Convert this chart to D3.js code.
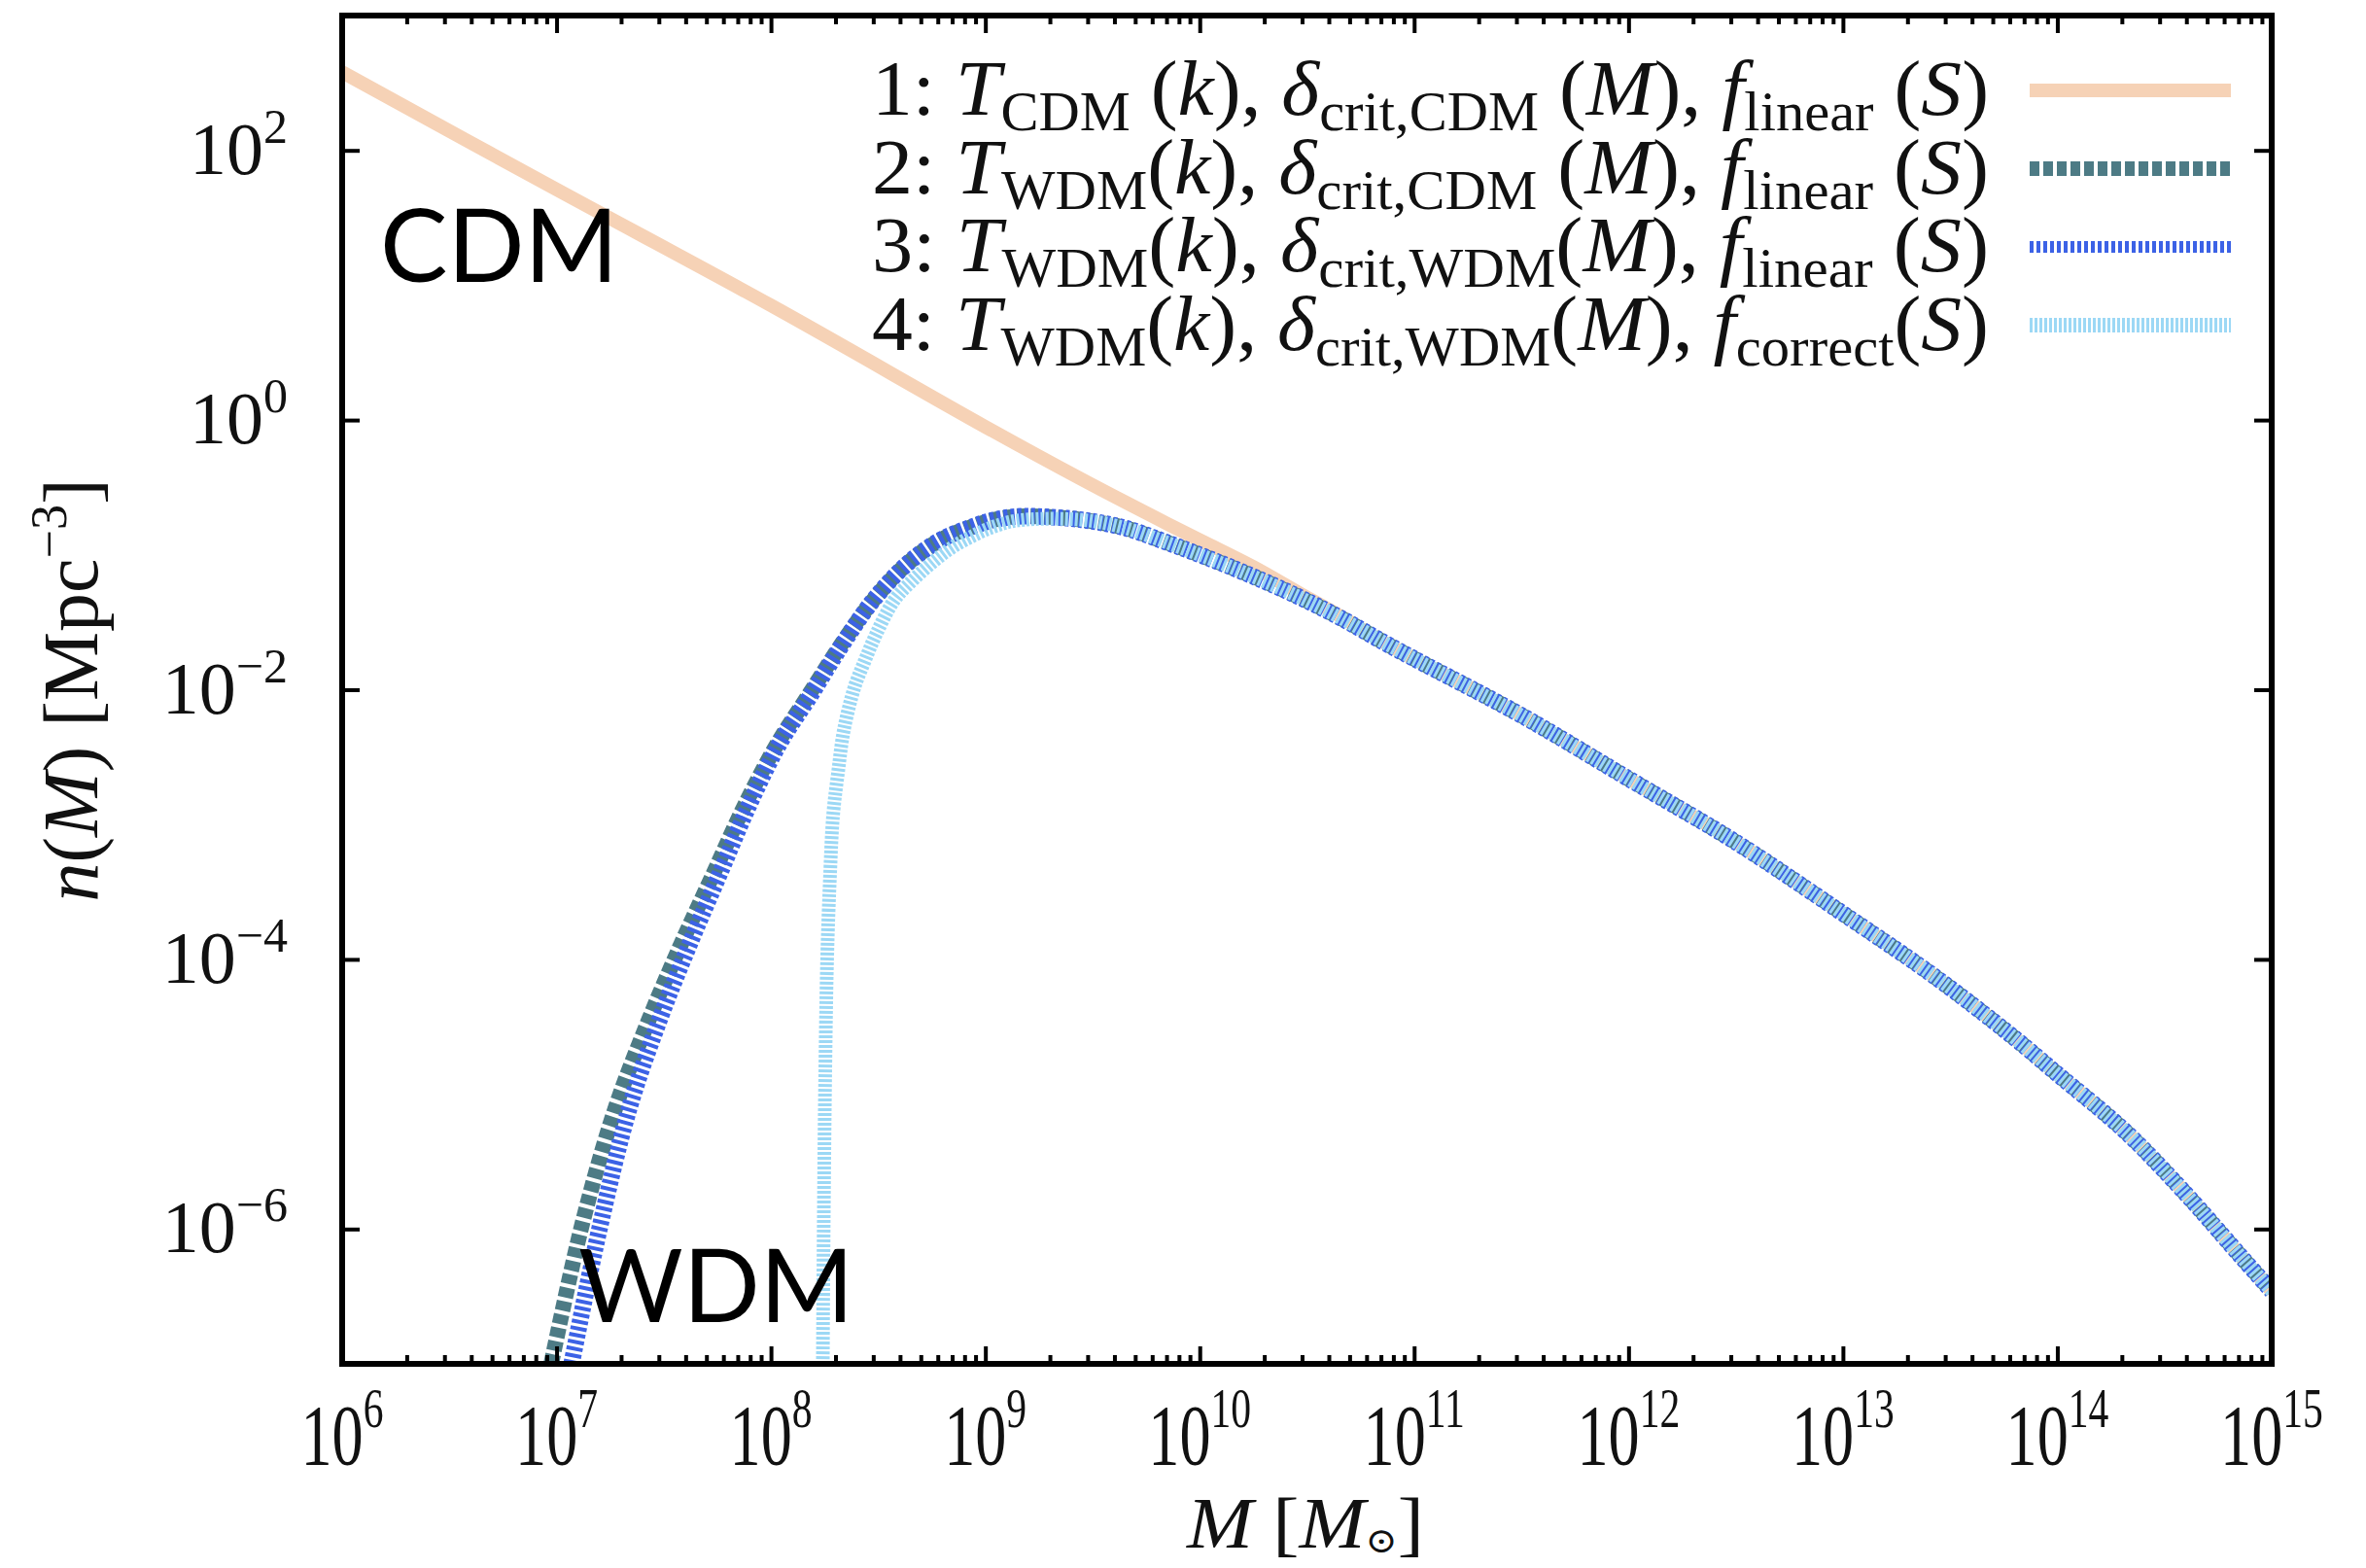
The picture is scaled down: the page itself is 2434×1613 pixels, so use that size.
<!DOCTYPE html>
<html>
<head>
<meta charset="utf-8">
<script src="https://cdn.jsdelivr.net/npm/d3@7"></script>
<style>
  html, body { margin: 0; padding: 0; background: #fff; }
</style>
</head>
<body>
<svg id="chart" width="2434" height="1613"></svg>
<script>
// ---------- data (log10 values) ----------
const xTickExps = [6, 7, 8, 9, 10, 11, 12, 13, 14, 15];
const yTickExps = [2, 0, -2, -4, -6];

// shared high-mass tail (all curves coincide here)
const tailLogM = [11.0, 11.5, 12.0, 12.5, 13.0, 13.43, 13.79, 14.0, 14.32, 14.6, 14.86, 15.0];
const tailLogN = [-1.77, -2.19, -2.66, -3.13, -3.66, -4.13, -4.57, -4.85, -5.28, -5.74, -6.21, -6.46];

// 1: CDM
const cdmLogM = [6.0, 7.0, 8.0, 9.0, 9.45, 9.85, 10.05, 10.25, 10.46, 10.66, 10.86];
const cdmLogN = [2.58, 1.71, 0.85, -0.05, -0.44, -0.77, -0.93, -1.09, -1.28, -1.46, -1.65];

// WDM peak / turnover region shared by curves 2,3 (and 4 after ~9.25)
const peakLogM = [9.25, 9.45, 9.65, 9.85, 10.05, 10.25, 10.46, 10.66, 10.86];
const peakLogN = [-0.715, -0.74, -0.80, -0.91, -1.03, -1.16, -1.31, -1.47, -1.65];

// 2: T_WDM, delta_crit,CDM, f_linear
const w2LogM = [6.975, 7.12, 7.275, 7.43, 7.58, 7.73, 7.88, 8.03, 8.18, 8.33, 8.48, 8.64, 8.79, 8.94, 9.04, 9.15];
const w2LogN = [-7.0, -5.96, -5.10, -4.45, -3.89, -3.37, -2.85, -2.40, -2.03, -1.66, -1.33, -1.06, -0.89, -0.79, -0.74, -0.715];

// 3: T_WDM, delta_crit,WDM, f_linear
const w3LogM = [7.07, 7.2, 7.34, 7.48, 7.62, 7.76, 7.9, 8.04, 8.19, 8.335, 8.48, 8.64, 8.79, 8.94, 9.04, 9.15];
const w3LogN = [-7.0, -6.0, -5.10, -4.45, -3.89, -3.37, -2.85, -2.40, -2.03, -1.66, -1.33, -1.06, -0.89, -0.79, -0.74, -0.715];

// 4: T_WDM, delta_crit,WDM, f_correct
const w4LogM = [8.242, 8.246, 8.252, 8.262, 8.275, 8.29, 8.314, 8.34, 8.39, 8.434, 8.49, 8.575, 8.66, 8.75, 8.84, 8.94, 9.04, 9.15];
const w4LogN = [-7.0, -6.0, -5.0, -4.0, -3.4, -2.93, -2.6, -2.3, -1.98, -1.80, -1.59, -1.336, -1.19, -1.06, -0.95, -0.86, -0.79, -0.745];

const seriesColors = ["#f6d2b6", "#4d7b85", "#3c62e6", "#9cd8f5"];

// ---------- build series ----------
function pts(lm, ln) { return lm.map((m, i) => ({ M: Math.pow(10, m), n: Math.pow(10, ln[i]) })); }
const tail = pts(tailLogM, tailLogN);
const peak = pts(peakLogM, peakLogN);
const series = [
  { id: 1, data: pts(cdmLogM, cdmLogN).concat(tail), color: seriesColors[0], width: 14, dash: null, lw: 14 },
  { id: 2, data: pts(w2LogM, w2LogN).concat(peak, tail), color: seriesColors[1], width: 16, dash: "10,4", lw: 15 },
  { id: 3, data: pts(w3LogM, w3LogN).concat(peak, tail), color: seriesColors[2], width: 17, dash: "4,3", lw: 12 },
  { id: 4, data: pts(w4LogM, w4LogN).concat(peak.slice(1), tail), color: seriesColors[3], width: 14, dash: "3,2", lw: 15 }
];

// ---------- layout ----------
const svg = d3.select("#chart");
const L = 352, R = 2337, T = 16, B = 1403;
const x = d3.scaleLog().domain([1e6, 1e15]).range([L, R]);
const y = d3.scaleLog().domain([1e-7, 1e3]).range([B, T]);
const SERIF = "'Liberation Serif', 'DejaVu Serif', serif";
const SANS = "Lato, 'Open Sans', 'Noto Sans', sans-serif";

svg.append("rect").attr("width", 2434).attr("height", 1613).attr("fill", "#fff");

svg.append("clipPath").attr("id", "clip")
  .append("rect").attr("x", L).attr("y", T).attr("width", R - L).attr("height", B - T);

const line = d3.line().x(d => x(d.M)).y(d => y(d.n)).curve(d3.curveCatmullRom.alpha(0.5));

const g = svg.append("g").attr("clip-path", "url(#clip)");
series.forEach(s => {
  const p = g.append("path").datum(s.data).attr("d", line)
    .attr("fill", "none").attr("stroke", s.color).attr("stroke-width", s.width)
    .attr("stroke-linejoin", "round");
  if (s.dash) p.attr("stroke-dasharray", s.dash);
});

// ---------- axes ----------
function minorTicks() {
  const arr = [];
  for (let e = 6; e < 15; e++) for (let k = 2; k <= 9; k++) arr.push(k * Math.pow(10, e));
  return arr;
}
const majorX = xTickExps.map(e => Math.pow(10, e));
const majorY = yTickExps.map(e => Math.pow(10, e));

const axB = d3.axisBottom(x).tickValues(majorX).tickSize(-18).tickFormat("");
const axBm = d3.axisBottom(x).tickValues(minorTicks()).tickSize(-9).tickFormat("");
const axT = d3.axisTop(x).tickValues(majorX).tickSize(-18).tickFormat("");
const axTm = d3.axisTop(x).tickValues(minorTicks()).tickSize(-9).tickFormat("");
const axL = d3.axisLeft(y).tickValues(majorY).tickSize(-18).tickFormat("");
const axR = d3.axisRight(y).tickValues(majorY).tickSize(-18).tickFormat("");

function styleAxis(sel) {
  sel.selectAll("path").remove();
  sel.selectAll("line").attr("stroke", "#000").attr("stroke-width", 4);
}
styleAxis(svg.append("g").attr("transform", `translate(0,${B})`).call(axB));
styleAxis(svg.append("g").attr("transform", `translate(0,${B})`).call(axBm));
styleAxis(svg.append("g").attr("transform", `translate(0,${T})`).call(axT));
styleAxis(svg.append("g").attr("transform", `translate(0,${T})`).call(axTm));
styleAxis(svg.append("g").attr("transform", `translate(${L},0)`).call(axL));
styleAxis(svg.append("g").attr("transform", `translate(${R},0)`).call(axR));

svg.append("rect").attr("x", L).attr("y", T).attr("width", R - L).attr("height", B - T)
  .attr("fill", "none").attr("stroke", "#000").attr("stroke-width", 6);

// tick labels
const xl = svg.append("g").style("font-family", SERIF);
majorX.forEach((v, i) => {
  const cx = x(v);
  const t = xl.append("text").attr("x", cx).attr("y", 1506).attr("text-anchor", "middle")
    .attr("font-size", 88).attr("fill", "#111")
    .attr("transform", `translate(${cx},0) scale(0.73,1) translate(${-cx},0)`);
  t.append("tspan").text("10");
  t.append("tspan").attr("dy", -38).attr("font-size", 57).text(String(xTickExps[i]));
});
const yl = svg.append("g").style("font-family", SERIF);
majorY.forEach((v, i) => {
  const t = yl.append("text").attr("x", 296).attr("y", y(v) + 24).attr("text-anchor", "end")
    .attr("font-size", 76).attr("fill", "#111");
  t.append("tspan").text("10");
  t.append("tspan").attr("dy", -32).attr("font-size", 50)
    .text(yTickExps[i] < 0 ? "\u2212" + Math.abs(yTickExps[i]) : String(yTickExps[i]));
});

// axis titles
const xt = svg.append("text").attr("x", 1343).attr("y", 1592).attr("text-anchor", "middle")
  .style("font-family", SERIF).attr("font-size", 74).attr("fill", "#111")
  .attr("textLength", 244).attr("lengthAdjust", "spacingAndGlyphs");
xt.append("tspan").attr("font-style", "italic").text("M");
xt.append("tspan").text(" [");
xt.append("tspan").attr("font-style", "italic").text("M");
xt.append("tspan").attr("font-size", 36).attr("dy", 5).text("\u2299");
xt.append("tspan").attr("dy", -5).text("]");

const yt = svg.append("text").attr("transform", "translate(100,710) rotate(-90)")
  .attr("text-anchor", "middle").style("font-family", SERIF).attr("font-size", 80).attr("fill", "#111");
yt.append("tspan").attr("font-style", "italic").text("n");
yt.append("tspan").text("(");
yt.append("tspan").attr("font-style", "italic").text("M");
yt.append("tspan").text(") [Mpc");
yt.append("tspan").attr("dy", -32).attr("font-size", 52).text("\u22123");
yt.append("tspan").attr("dy", 32).text("]");

// ---------- legend ----------
const legendRows = [
  { n: "1", T: "CDM", dc: "crit,CDM", f: "linear", pad: true },
  { n: "2", T: "WDM", dc: "crit,CDM", f: "linear", pad: true },
  { n: "3", T: "WDM", dc: "crit,WDM", f: "linear", pad: false },
  { n: "4", T: "WDM", dc: "crit,WDM", f: "correct", pad: false }
];
const lg = svg.append("g").style("font-family", SERIF);
legendRows.forEach((r, i) => {
  const by = 118 + i * 80.5;
  const t = lg.append("text").attr("x", 2046).attr("y", by).attr("text-anchor", "end")
    .attr("font-size", 80).attr("fill", "#111");
  t.append("tspan").text(r.n + ": ");
  t.append("tspan").attr("font-style", "italic").text("T");
  t.append("tspan").attr("font-size", 56).attr("dy", 16).text(r.T);
  t.append("tspan").attr("dy", -16).text((r.n === "1" ? " " : "") + "(");
  t.append("tspan").attr("font-style", "italic").text("k");
  t.append("tspan").text("), ");
  t.append("tspan").attr("font-style", "italic").text("\u03b4");
  t.append("tspan").attr("font-size", 56).attr("dy", 16).text(r.dc);
  t.append("tspan").attr("dy", -16).text((r.pad ? " " : "") + "(");
  t.append("tspan").attr("font-style", "italic").text("M");
  t.append("tspan").text("), ");
  t.append("tspan").attr("font-style", "italic").text("f");
  t.append("tspan").attr("font-size", 56).attr("dy", 16).text(r.f);
  t.append("tspan").attr("dy", -16).text((r.f === "linear" ? " " : "") + "(");
  t.append("tspan").attr("font-style", "italic").text("S");
  t.append("tspan").text(")");
  t.attr("textLength", 1149).attr("lengthAdjust", "spacingAndGlyphs");

  const s = series[i];
  const ly = 93 + i * 80.5;
  const p = lg.append("line").attr("x1", 2088).attr("x2", 2295).attr("y1", ly).attr("y2", ly)
    .attr("stroke", s.color).attr("stroke-width", s.lw);
  if (s.dash) p.attr("stroke-dasharray", s.dash);
});

// ---------- annotations ----------
svg.append("text").attr("x", 391).attr("y", 290).style("font-family", SANS)
  .attr("font-size", 104).attr("fill", "#000").text("CDM");
svg.append("text").attr("x", 595).attr("y", 1360).style("font-family", SANS)
  .attr("font-size", 104).attr("fill", "#000").text("WDM");
</script>
</body>
</html>
